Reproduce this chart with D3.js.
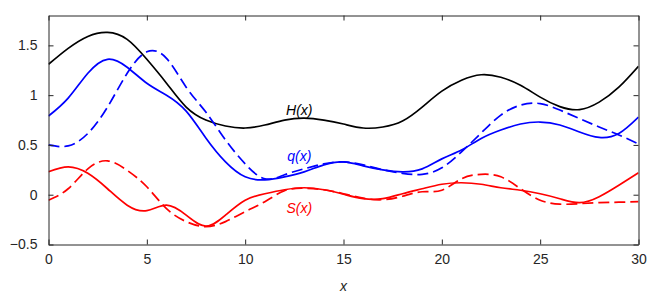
<!DOCTYPE html>
<html>
<head>
<meta charset="utf-8">
<script src="https://cdn.jsdelivr.net/npm/d3@7"></script>
<style>
  body { margin: 0; background: #fff; }
  text { font-family: "Liberation Sans", Arial, sans-serif; fill: #262626; }
</style>
</head>
<body>
<div id="chart"></div>
<script>
// Sample positions along x.
var xs = d3.range(0, 31);

// H(x), black solid.
var H = [1.31, 1.47, 1.59, 1.63, 1.56, 1.36, 1.12, 0.88, 0.75, 0.69,
         0.67, 0.70, 0.75, 0.77, 0.75, 0.71, 0.67, 0.68, 0.74, 0.88,
         1.04, 1.15, 1.205, 1.18, 1.10, 0.98, 0.885, 0.855, 0.93, 1.08, 1.29];

// q(x), blue solid and dashed.
var q = [0.79, 0.97, 1.22, 1.36, 1.28, 1.12, 1.00, 0.84, 0.57, 0.33,
         0.18, 0.15, 0.18, 0.23, 0.30, 0.33, 0.29, 0.25, 0.23, 0.26,
         0.36, 0.45, 0.565, 0.65, 0.71, 0.73, 0.70, 0.63, 0.575, 0.615, 0.78];
var qDash = [0.50, 0.49, 0.615, 0.88, 1.22, 1.435, 1.37, 1.08, 0.83, 0.55,
             0.31, 0.16, 0.20, 0.26, 0.31, 0.33, 0.30, 0.25, 0.215, 0.205,
             0.27, 0.43, 0.62, 0.80, 0.90, 0.915, 0.85, 0.765, 0.68, 0.60, 0.51];

// S(x), red solid and dashed.
var S = [0.23, 0.28, 0.215, 0.06, -0.105, -0.16, -0.105, -0.205, -0.315, -0.205,
         -0.055, 0.01, 0.05, 0.07, 0.05, 0.005, -0.04, -0.04, 0.01, 0.06,
         0.105, 0.12, 0.105, 0.07, 0.045, 0.01, -0.04, -0.08, -0.02, 0.095, 0.22];
var SDash = [-0.055, 0.06, 0.26, 0.34, 0.245, 0.08, -0.14, -0.27, -0.32, -0.27,
             -0.17, -0.07, 0.04, 0.065, 0.05, 0.01, -0.035, -0.05, -0.015, 0.03,
             0.045, 0.16, 0.205, 0.18, 0.06, -0.055, -0.095, -0.09, -0.08, -0.075, -0.07];

var xTicks = [0, 5, 10, 15, 20, 25, 30];
var yTicks = [-0.5, 0, 0.5, 1, 1.5];

var series = [
  { values: H, color: "#000000", dash: null },
  { values: qDash, color: "#0000ff", dash: "11,5" },
  { values: q, color: "#0000ff", dash: null },
  { values: SDash, color: "#ff0000", dash: "11,5" },
  { values: S, color: "#ff0000", dash: null }
];

var labels = [
  { text: "H(x)", x: 12.75, y: 0.805, color: "#000000" },
  { text: "q(x)", x: 12.75, y: 0.335, color: "#0000ff" },
  { text: "S(x)", x: 12.75, y: -0.185, color: "#ff0000" }
];

function draw() {
  var width = 664, height = 294;
  var mLeft = 48.5, mRight = 638.5, mTop = 15.5, mBottom = 244.5;

  var svg = d3.select("#chart").append("svg")
    .attr("width", width)
    .attr("height", height);

  var x = d3.scaleLinear().domain([0, 30]).range([mLeft, mRight]);
  var y = d3.scaleLinear().domain([-0.5, 1.8]).range([mBottom, mTop]);

  var line = d3.line()
    .x(function (d, i) { return x(xs[i]); })
    .y(function (d) { return y(d); })
    .curve(d3.curveNatural);

  svg.append("clipPath").attr("id", "clip")
    .append("rect")
      .attr("x", mLeft).attr("y", mTop)
      .attr("width", mRight - mLeft).attr("height", mBottom - mTop);

  var plot = svg.append("g").attr("clip-path", "url(#clip)");

  series.forEach(function (s) {
    plot.append("path")
      .attr("d", line(s.values))
      .attr("fill", "none")
      .attr("stroke", s.color)
      .attr("stroke-width", 1.7)
      .attr("stroke-dasharray", s.dash);
  });

  // Axes: inward ticks on all four sides, MATLAB style.
  var fmt = function (d) { return d < 0 ? "\u2212" + Math.abs(d) : String(d); };

  var axB = svg.append("g").attr("transform", "translate(0," + mBottom + ")")
    .call(d3.axisBottom(x).tickValues(xTicks).tickSizeInner(-5).tickSizeOuter(0).tickPadding(10).tickFormat(fmt));
  var axT = svg.append("g").attr("transform", "translate(0," + mTop + ")")
    .call(d3.axisTop(x).tickValues(xTicks).tickSizeInner(-5).tickSizeOuter(0).tickFormat(""));
  var axL = svg.append("g").attr("transform", "translate(" + mLeft + ",0)")
    .call(d3.axisLeft(y).tickValues(yTicks).tickSizeInner(-5).tickSizeOuter(0).tickPadding(11).tickFormat(fmt));
  var axR = svg.append("g").attr("transform", "translate(" + mRight + ",0)")
    .call(d3.axisRight(y).tickValues(yTicks).tickSizeInner(-5).tickSizeOuter(0).tickFormat(""));

  [axB, axT, axL, axR].forEach(function (a) {
    a.attr("font-size", null).attr("font-family", null);
    a.selectAll("path.domain").attr("stroke", "#262626");
    a.selectAll(".tick line").attr("stroke", "#262626");
    a.selectAll(".tick text").style("font-size", "14px").attr("fill", "#262626");
  });

  // Curve labels.
  labels.forEach(function (l) {
    svg.append("text")
      .attr("x", x(l.x))
      .attr("y", y(l.y))
      .attr("text-anchor", "middle")
      .style("font-size", "14px")
      .style("font-style", "italic")
      .style("fill", l.color)
      .text(l.text);
  });

  svg.append("text")
    .attr("x", (mLeft + mRight) / 2)
    .attr("y", 291)
    .attr("text-anchor", "middle")
    .style("font-size", "14px")
    .style("font-style", "italic")
    .text("x");
}

draw();
</script>
</body>
</html>
